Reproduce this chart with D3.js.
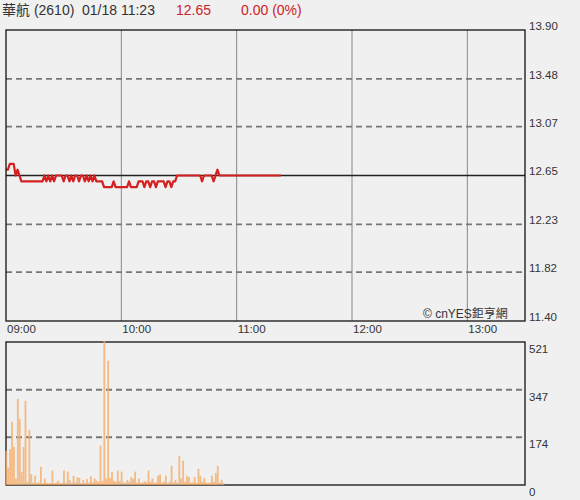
<!DOCTYPE html>
<html><head><meta charset="utf-8">
<script src="https://cdn.jsdelivr.net/npm/d3@7"></script>
<style>
html,body{margin:0;padding:0;background:#f0f0f0;}
svg{display:block;font-family:"Liberation Sans",Arial,"Noto Sans CJK TC",sans-serif;}
</style></head>
<body><svg id="c" width="580" height="500"></svg>
<script>
// ---- data ----
const stockName = "華航 (2610)";
const timeStamp = "01/18 11:23";
const lastPrice = "12.65";
const changeText = "0.00 (0%)";
const prevClose = 12.65;
const priceTicks = [11.40, 11.82, 12.23, 12.65, 13.07, 13.48, 13.90];
const volumeTicks = [0, 174, 347, 521];
const timeLabels = ["09:00", "10:00", "11:00", "12:00", "13:00"];
const timeLabelMinutes = [0, 60, 120, 180, 240];
// price per minute from 09:00 (minute 0) to 11:23 (minute 143)
const prices = [
 12.70,12.70,12.75,12.75,12.75,12.65,12.70,12.65,12.60,12.60,
 12.60,12.60,12.60,12.60,12.60,12.60,12.60,12.60,12.60,12.60,
 12.65,12.60,12.65,12.60,12.65,12.60,12.65,12.65,12.65,12.65,
 12.60,12.65,12.65,12.60,12.65,12.60,12.65,12.65,12.60,12.65,
 12.65,12.60,12.65,12.60,12.65,12.60,12.65,12.60,12.60,12.60,
 12.60,12.55,12.55,12.55,12.55,12.55,12.60,12.55,12.55,12.55,
 12.55,12.55,12.55,12.55,12.60,12.55,12.55,12.55,12.55,12.60,
 12.60,12.60,12.55,12.60,12.60,12.55,12.60,12.60,12.55,12.60,
 12.60,12.60,12.60,12.55,12.60,12.60,12.55,12.60,12.60,12.65,
 12.65,12.65,12.65,12.65,12.65,12.65,12.65,12.65,12.65,12.65,
 12.65,12.65,12.60,12.65,12.65,12.65,12.65,12.65,12.60,12.65,
 12.70,12.65,12.65,12.65,12.65,12.65,12.65,12.65,12.65,12.65,
 12.65,12.65,12.65,12.65,12.65,12.65,12.65,12.65,12.65,12.65,
 12.65,12.65,12.65,12.65,12.65,12.65,12.65,12.65,12.65,12.65,
 12.65,12.65,12.65,12.65
];
// volume per minute
const volumes = [
 121,60,127,227,135,20,310,237,44,135,
 303,8,197,36,5,30,4,6,63,3,
 20,5,3,4,49,3,5,12,3,4,
 49,5,45,15,4,30,6,25,22,3,
 15,4,18,5,28,6,20,12,8,140,
 10,521,20,449,22,44,12,8,49,10,
 45,6,4,15,8,25,20,45,5,20,
 4,6,10,5,49,8,20,4,6,30,
 35,5,8,30,4,10,67,6,15,5,
 102,20,85,8,30,25,5,6,25,4,
 55,30,8,22,5,4,6,30,8,40,
 67,5,15,3
];

// ---- layout ----
const svg = d3.select("#c");
const L = 6, R = 525;
const pTop = 30, pBot = 321;
const vTop = 342, vBot = 485;

const x = d3.scaleLinear().domain([0, 270]).range([L, R]);
const y = d3.scaleLinear().domain([11.40, 13.90]).range([pBot, pTop]);
const yv = d3.scaleLinear().domain([0, 521]).range([vBot, vTop]);

// title
const t = svg.append("g").attr("font-size", 14);
t.append("text").attr("x", 2).attr("y", 15).attr("fill", "#333").text(stockName);
t.append("text").attr("x", 82).attr("y", 15).attr("fill", "#333").text(timeStamp);
t.append("text").attr("x", 176).attr("y", 15).attr("fill", "#cc2229").text(lastPrice);
t.append("text").attr("x", 241).attr("y", 15).attr("fill", "#cc2229").text(changeText);

// vertical grid (price panel)
svg.append("g").selectAll("line").data([60, 120, 180, 240]).join("line")
  .attr("x1", d => x(d)).attr("x2", d => x(d))
  .attr("y1", pTop).attr("y2", pBot)
  .attr("stroke", "#888").attr("stroke-width", 1);

// dashed price grid
svg.append("g").selectAll("line")
  .data(priceTicks.filter(d => d !== prevClose && d !== 11.40 && d !== 13.90)).join("line")
  .attr("x1", L).attr("x2", R).attr("y1", d => y(d)).attr("y2", d => y(d))
  .attr("stroke", "#777").attr("stroke-width", 1.8).attr("stroke-dasharray", "6,4");

// prev close line
svg.append("line").attr("x1", L).attr("x2", R)
  .attr("y1", y(prevClose)).attr("y2", y(prevClose))
  .attr("stroke", "#222").attr("stroke-width", 1.5);

// copyright
svg.append("text").attr("x", 423).attr("y", 318).attr("font-size", 12).attr("fill", "#333")
  .text("© cnYES鉅亨網");

// price line
const line = d3.line().x((d, i) => x(i)).y(d => y(d)).curve(d3.curveLinear);
svg.append("path").datum(prices).attr("d", line)
  .attr("fill", "none").attr("stroke", "#d42020").attr("stroke-width", 2.2)
  .attr("stroke-linejoin", "round");

// price frame
svg.append("rect").attr("x", L).attr("y", pTop).attr("width", R - L).attr("height", pBot - pTop)
  .attr("fill", "none").attr("stroke", "#111").attr("stroke-width", 1.3);

// price axis labels
const pa = d3.axisRight(y).tickValues(priceTicks).tickFormat(d3.format(".2f")).tickSize(0).tickPadding(4);
const pag = svg.append("g").attr("transform", `translate(${R},0)`).call(pa);
pag.select(".domain").remove();
pag.selectAll("text").attr("font-size", 11.5).attr("fill", "#333")
  .attr("font-family", "Liberation Sans, Arial, sans-serif").attr("dy", "-0.05em");

// time labels
svg.append("g").selectAll("text").data(timeLabelMinutes).join("text")
  .attr("x", d => x(d) + 1).attr("y", 333).attr("font-size", 11.5).attr("fill", "#333")
  .text((d, i) => timeLabels[i]);

// volume dashed grid
svg.append("g").selectAll("line").data(volumeTicks.filter(d => d !== 0 && d !== 521)).join("line")
  .attr("x1", L).attr("x2", R).attr("y1", d => yv(d)).attr("y2", d => yv(d))
  .attr("stroke", "#777").attr("stroke-width", 1.8).attr("stroke-dasharray", "6,4");

// volume frame
svg.append("rect").attr("x", L).attr("y", vTop).attr("width", R - L).attr("height", vBot - vTop)
  .attr("fill", "none").attr("stroke", "#111").attr("stroke-width", 1.3);

// volume bars
svg.append("g").selectAll("rect").data(volumes).join("rect")
  .attr("x", (d, i) => x(i) - 0.6).attr("width", 1.8)
  .attr("y", d => yv(d) - 1).attr("height", d => vBot - yv(d) + 1)
  .attr("fill", "#f5ac68").attr("opacity", 0.8);

// volume axis labels
const va = d3.axisRight(yv).tickValues(volumeTicks).tickFormat(d3.format("d")).tickSize(0).tickPadding(4);
const vag = svg.append("g").attr("transform", `translate(${R},0)`).call(va);
vag.select(".domain").remove();
vag.selectAll("text").attr("font-size", 11.5).attr("fill", "#333")
  .attr("font-family", "Liberation Sans, Arial, sans-serif").attr("dy", "0.9em");
</script></body></html>
